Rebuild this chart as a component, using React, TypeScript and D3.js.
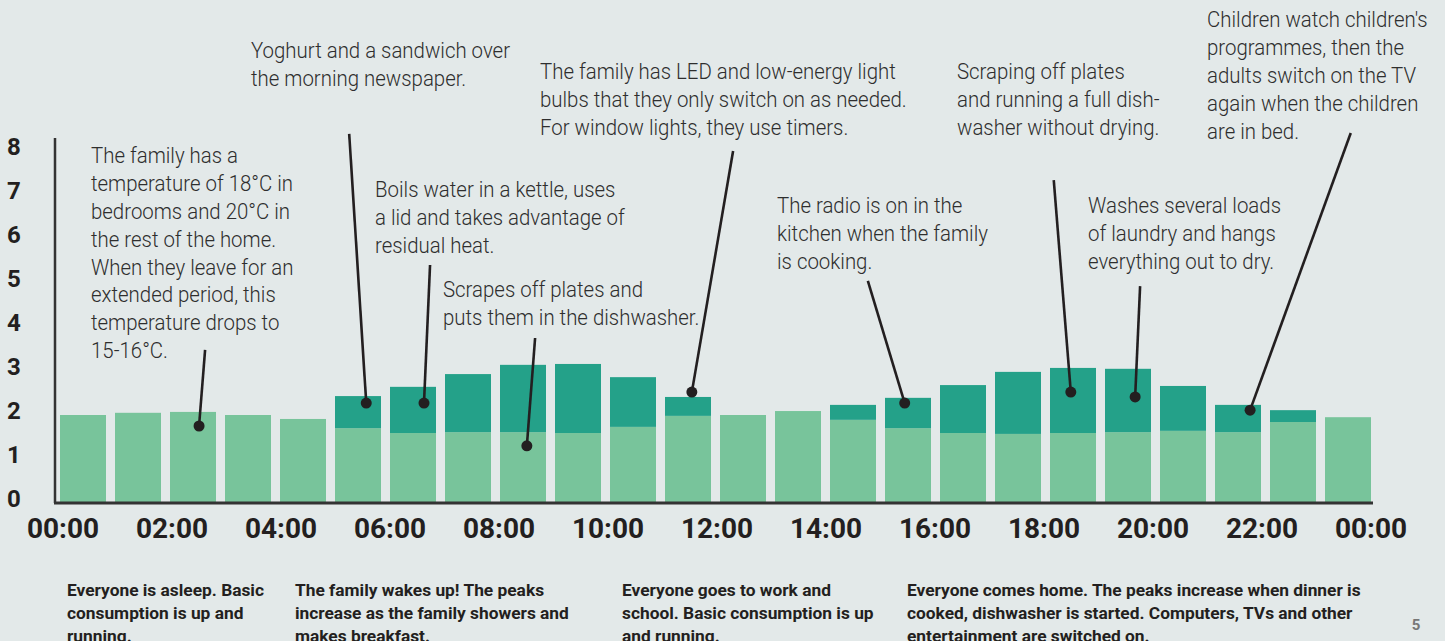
import React from "react";
import * as d3 from "d3";

const hours = d3.range(24);
const baseLoad = [2.0, 2.05, 2.07, 2.0, 1.91, 1.7, 1.59, 1.61, 1.61, 1.59, 1.73, 1.98, 2.0, 2.09, 1.89, 1.7, 1.59, 1.57, 1.59, 1.61, 1.64, 1.61, 1.84, 1.95];
const peakLoad = [0, 0, 0, 0, 0, 0.73, 1.05, 1.32, 1.53, 1.57, 1.13, 0.43, 0, 0, 0.34, 0.69, 1.09, 1.41, 1.48, 1.44, 1.02, 0.62, 0.27, 0];
const yTicks = [0, 1, 2, 3, 4, 5, 6, 7, 8];
const timeTicks = [0, 2, 4, 6, 8, 10, 12, 14, 16, 18, 20, 22, 24];
const timeLabels = ["00:00", "02:00", "04:00", "06:00", "08:00", "10:00", "12:00", "14:00", "16:00", "18:00", "20:00", "22:00", "00:00"];

// annotations: dot (hour, value) and leader top (hour, value), text lines
const notes = [
  { dot: [2.61, 1.75], top: [2.72, 3.48], tx: 91, ty: 163, lines: ["The family has a", "temperature of 18°C in", "bedrooms and 20°C in", "the rest of the home.", "When they leave for an", "extended period, this", "temperature drops to", "15-16°C."] },
  { dot: [5.65, 2.27], top: [5.34, 8.39], tx: 251, ty: 58, lines: ["Yoghurt and a sandwich over", "the morning newspaper."] },
  { dot: [6.7, 2.27], top: [6.81, 5.41], tx: 375, ty: 197, lines: ["Boils water in a kettle, uses", "a lid and takes advantage of", "residual heat."] },
  { dot: [8.57, 1.3], top: [8.72, 3.75], tx: 443, ty: 297, lines: ["Scrapes off plates and", "puts them in the dishwasher."] },
  { dot: [11.57, 2.52], top: [12.32, 8.0], tx: 540, ty: 79, lines: ["The family has LED and low-energy light", "bulbs that they only switch on as needed.", "For window lights, they use timers."] },
  { dot: [15.44, 2.27], top: [14.77, 5.05], tx: 777, ty: 213, lines: ["The radio is on in the", "kitchen when the family", "is cooking."] },
  { dot: [18.46, 2.52], top: [18.15, 7.34], tx: 957, ty: 79, lines: ["Scraping off plates", "and running a full dish-", "washer without drying."] },
  { dot: [19.63, 2.41], top: [19.72, 4.93], tx: 1088, ty: 213, lines: ["Washes several loads", "of laundry and hangs", "everything out to dry."] },
  { dot: [21.72, 2.11], top: [23.55, 8.41], tx: 1207, ty: 27, lines: ["Children watch children's", "programmes, then the", "adults switch on the TV", "again when the children", "are in bed."] },
];

const phases = [
  { x: 67, lines: ["Everyone is asleep. Basic", "consumption is up and", "running."] },
  { x: 295, lines: ["The family wakes up! The peaks", "increase as the family showers and", "makes breakfast."] },
  { x: 622, lines: ["Everyone goes to work and", "school. Basic consumption is up", "and running."] },
  { x: 907, lines: ["Everyone comes home. The peaks increase when dinner is", "cooked, dishwasher is started. Computers, TVs and other", "entertainment are switched on."] },
];

const W = 1445;
const H = 641;
const BG = "#e3e9e9";
const LIGHT = "#78c49b";
const DARK = "#24a189";
const INK = "#231f20";

export default function App() {
  const x = d3.scaleBand<number>().domain(hours).range([55.5, 1375.5]).paddingInner(9 / 55).paddingOuter(4.5 / 55);
  const hx = d3.scaleLinear().domain([0, 24]).range([55.5, 1375.5]);
  const y = d3.scaleLinear().domain([0, 8]).range([503, 151]);
  const tx = d3.scaleLinear().domain([0, 24]).range([63, 1371]);

  const table = hours.map((h) => ({ h, base: baseLoad[h], peak: peakLoad[h] }));
  const stack = d3.stack<any>().keys(["base", "peak"])(table);
  const colors = [LIGHT, DARK];

  const annFont = "Roboto, 'DejaVu Sans', sans-serif";

  return (
    <svg width={W} height={H} style={{ position: "absolute", left: 0, top: 0, background: BG }}>
      <rect x={0} y={0} width={W} height={H} fill={BG} />
      {stack.map((layer, li) => (
        <g key={li} fill={colors[li]}>
          {layer.map((d, i) =>
            d[1] - d[0] > 0 ? (
              <rect key={i} x={x(i)!} width={x.bandwidth()} y={y(d[1])} height={y(d[0]) - y(d[1])} />
            ) : null
          )}
        </g>
      ))}
      {/* axes */}
      <line x1={55} x2={55} y1={138} y2={y(0)} stroke="#333" strokeWidth={2.5} />
      <line x1={54} x2={1373} y1={y(0)} y2={y(0)} stroke="#333" strokeWidth={3} />
      {yTicks.map((t) => (
        <text key={t} x={14} y={y(t) + 3.5} textAnchor="middle" fontFamily={annFont} fontWeight={700} fontSize={24} fill={INK}>
          {t}
        </text>
      ))}
      {timeTicks.map((t, i) => (
        <text key={i} x={tx(t)} y={538} textAnchor="middle" fontFamily={annFont} fontWeight={700} fontSize={28} fill={INK}>
          {timeLabels[i]}
        </text>
      ))}
      {/* annotations */}
      {notes.map((n, i) => (
        <g key={i}>
          <line x1={hx(n.top[0])} y1={y(n.top[1])} x2={hx(n.dot[0])} y2={y(n.dot[1])} stroke={INK} strokeWidth={2.6} />
          <circle cx={hx(n.dot[0])} cy={y(n.dot[1])} r={5.5} fill={INK} />
          <g transform={`translate(${n.tx},${n.ty}) scale(0.95,1)`}>
            {n.lines.map((l, j) => (
              <text key={j} x={0} y={j * 27.9} fontFamily={annFont} fontWeight={300} fontSize={21.5} fill="#2e2e2e">
                {l}
              </text>
            ))}
          </g>
        </g>
      ))}
      {phases.map((p, i) => (
        <g key={i} transform={`translate(${p.x},596) scale(1.02,1)`}>
          {p.lines.map((l, j) => (
            <text key={j} x={0} y={j * 23} fontFamily={annFont} fontWeight={700} fontSize={17} fill={INK}>
              {l}
            </text>
          ))}
        </g>
      ))}
      <text x={1416} y={630} textAnchor="middle" fontFamily={annFont} fontWeight={700} fontSize={15} fill="#777">
        5
      </text>
    </svg>
  );
}
